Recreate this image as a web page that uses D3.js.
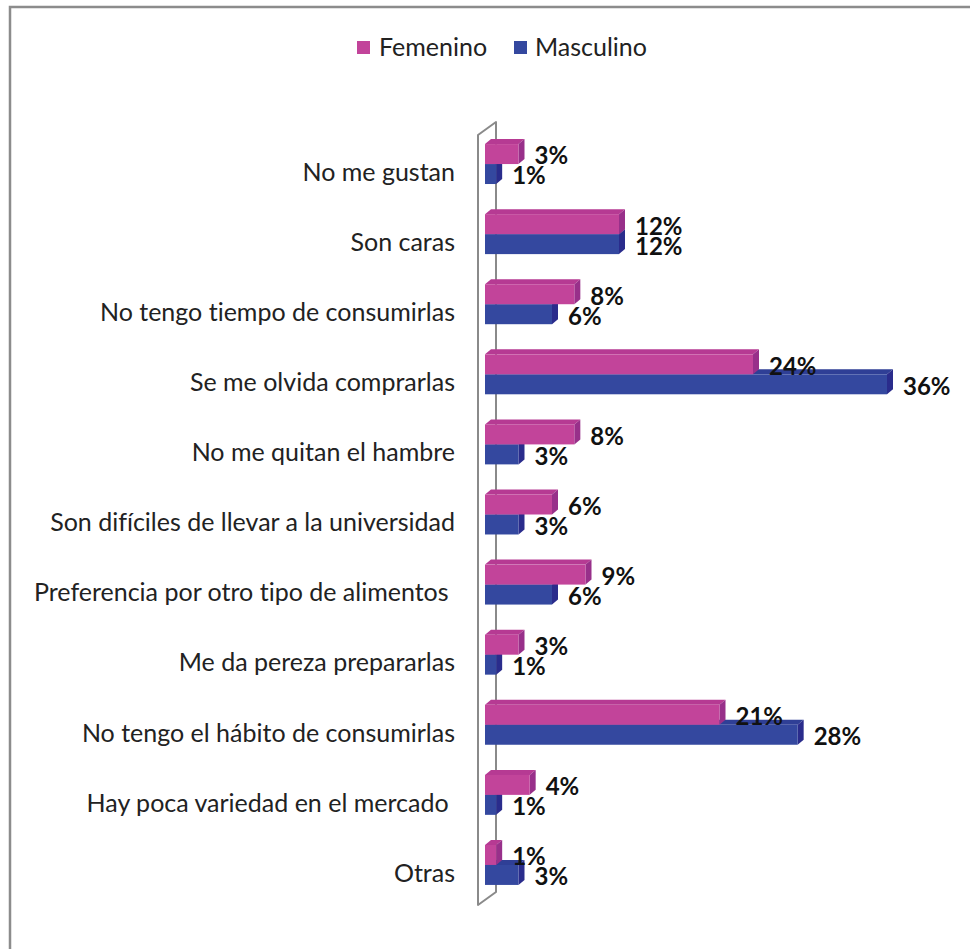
<!DOCTYPE html>
<html>
<head>
<meta charset="utf-8">
<script src="https://cdn.jsdelivr.net/npm/d3@7"></script>
<style>
  html, body { margin: 0; padding: 0; background: #ffffff; }
  svg { display: block; }
  text { font-family: Lato, "Open Sans", sans-serif; font-variant-ligatures: none; }
</style>
</head>
<body>
<svg id="chart" width="970" height="949"></svg>
<script>
// Reasons for not consuming, split by sex (percent)
const categories = [
  "No me gustan",
  "Son caras",
  "No tengo tiempo de consumirlas",
  "Se me olvida comprarlas",
  "No me quitan el hambre",
  "Son difíciles de llevar a la universidad",
  "Preferencia por otro tipo de alimentos ",
  "Me da pereza prepararlas",
  "No tengo el hábito de consumirlas",
  "Hay poca variedad en el mercado ",
  "Otras"
];
const femenino  = [3, 12, 8, 24, 8, 6, 9, 3, 21, 4, 1];
const masculino = [1, 12, 6, 36, 3, 3, 6, 1, 28, 1, 3];
const seriesNames = ["Femenino", "Masculino"];

const colors = {
  Femenino:  { front: "#c2449a", top: "#b63a93", side: "#98308a" },
  Masculino: { front: "#34489f", top: "#2f3f96", side: "#2a2c8c" }
};

const svg = d3.select("#chart");

// outer frame
svg.append("rect")
  .attr("x", 10).attr("y", 7)
  .attr("width", 1000).attr("height", 1000)
  .attr("fill", "none")
  .attr("stroke", "#8c8c8c")
  .attr("stroke-width", 2.5);

const x = d3.scaleLinear().domain([0, 36]).range([485, 887]);
const y = d3.scaleBand().domain(categories)
  .range([129, 900])
  .paddingInner(0.43)
  .paddingOuter(0.215);
const sub = d3.scaleBand().domain(seriesNames).range([0, y.bandwidth()]);

const depthX = 6, depthY = 5;

// side wall of the 3D plot
const [r0, r1] = y.range();
const wx = x(0);
svg.append("path")
  .attr("d", `M${wx - 7},${r1 + 5} L${wx - 7},${r0 + 6} L${wx + 11},${r0 - 7} L${wx + 11},${r1 - 8} Z`)
  .attr("fill", "none")
  .attr("stroke", "#8a8a8a")
  .attr("stroke-width", 2)
  .attr("stroke-linejoin", "round");

// category labels
svg.append("g")
  .selectAll("text")
  .data(categories)
  .join("text")
  .attr("x", 455)
  .attr("y", d => y(d) + y.bandwidth() / 2 + 8)
  .attr("dy", "0.35em")
  .attr("text-anchor", "end")
  .style("white-space", "pre")
  .attr("font-size", 25)
  .attr("fill", "#222")
  .text(d => d);

const rows = categories.map((c, i) => ({ c, Femenino: femenino[i], Masculino: masculino[i] }));

// draw a 3D box bar: front, top and right faces
function drawBars(name) {
  const col = colors[name];
  const g = svg.append("g");
  const bars = g.selectAll("g").data(rows).join("g");
  const x0 = x(0);
  bars.append("path") // top face
    .attr("d", d => {
      const yt = y(d.c) + sub(name), xe = x(d[name]);
      return `M${x0},${yt} L${x0 + depthX},${yt - depthY} L${xe + depthX},${yt - depthY} L${xe},${yt} Z`;
    })
    .attr("fill", col.top);
  bars.append("path") // side face
    .attr("d", d => {
      const yt = y(d.c) + sub(name), xe = x(d[name]), h = sub.bandwidth();
      return `M${xe},${yt} L${xe + depthX},${yt - depthY} L${xe + depthX},${yt + h - depthY} L${xe},${yt + h} Z`;
    })
    .attr("fill", col.side);
  bars.append("rect") // front face
    .attr("x", x0)
    .attr("y", d => y(d.c) + sub(name))
    .attr("width", d => x(d[name]) - x0)
    .attr("height", sub.bandwidth())
    .attr("fill", col.front);
}
drawBars("Masculino");
drawBars("Femenino");

// value labels
seriesNames.forEach(name => {
  svg.append("g")
    .selectAll("text")
    .data(rows)
    .join("text")
    .attr("x", d => x(d[name]) + depthX + 10)
    .attr("y", d => y(d.c) + sub(name) + sub.bandwidth() / 2 + 2)
    .attr("dy", "0.35em")
    .attr("font-size", 24)
    .attr("font-weight", "bold")
    .attr("fill", "#111")
    .text(d => d[name] + "%");
});

// legend
const legend = svg.append("g");
const legendItems = [
  { name: "Femenino", sx: 357, tx: 379 },
  { name: "Masculino", sx: 514, tx: 535 }
];
legendItems.forEach(it => {
  legend.append("rect")
    .attr("x", it.sx).attr("y", 41)
    .attr("width", 13).attr("height", 13)
    .attr("fill", colors[it.name].front);
  legend.append("text")
    .attr("x", it.tx).attr("y", 47.5)
    .attr("dy", "0.35em")
    .attr("font-size", 25)
    .attr("fill", "#222")
    .text(it.name);
});
</script>
</body>
</html>
